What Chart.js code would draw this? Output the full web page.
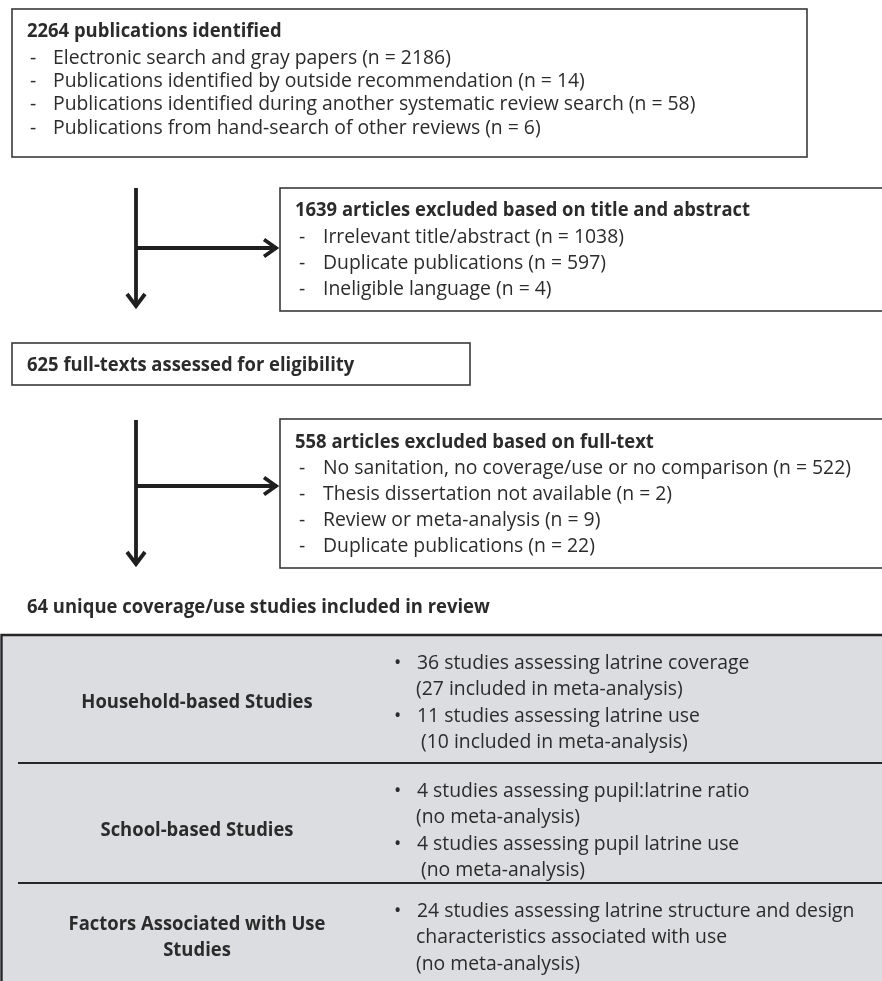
<!DOCTYPE html>
<html lang="en">
<head>
<meta charset="UTF-8">
<meta name="viewport" content="width=device-width, initial-scale=1.0">
<title>Study selection flow</title>
<script src="https://cdn.jsdelivr.net/npm/chart.js"></script>
<style>
  html, body { margin: 0; padding: 0; background: #fff; }
  #flow { display: block; }
</style>
</head>
<body>

<canvas id="flow" width="882" height="981"></canvas>

<script>
// counts
const identifiedTotal = 2264;
const identifiedSources = [
    'Electronic search and gray papers',
    'Publications identified by outside recommendation',
    'Publications identified during another systematic review search',
    'Publications from hand-search of other reviews'
];
const identifiedCounts = [2186, 14, 58, 6];

const screenExcludedTotal = 1639;
const screenReasons = ['Irrelevant title/abstract', 'Duplicate publications', 'Ineligible language'];
const screenCounts = [1038, 597, 4];

const fullTextTotal = 625;

const fullTextExcludedTotal = 558;
const fullTextReasons = [
    'No sanitation, no coverage/use or no comparison',
    'Thesis dissertation not available',
    'Review or meta-analysis',
    'Duplicate publications'
];
const fullTextCounts = [522, 2, 9, 22];

const includedTotal = 64;

const groupNames = [['Household-based Studies'], ['School-based Studies'], ['Factors Associated with Use', 'Studies']];
// each line: [bullet?, text]
const groupLines = [
    [[true, '36 studies assessing latrine coverage'], [false, '(27 included in meta-analysis)'],
     [true, '11 studies assessing latrine use'], [false, ' (10 included in meta-analysis)']],
    [[true, '4 studies assessing pupil:latrine ratio'], [false, '(no meta-analysis)'],
     [true, '4 studies assessing pupil latrine use'], [false, ' (no meta-analysis)']],
    [[true, '24 studies assessing latrine structure and design'], [false, 'characteristics associated with use'],
     [false, '(no meta-analysis)']]
];

// layout in page units (scale 0..882 x 0..981)
const FAMILY = '"Open Sans", "Noto Sans", sans-serif';
const INK = '#2b2b2b';
const boxes = {
    identified: { x: 12, y: 9, w: 795, h: 148, titleX: 27, titleY: 31, dashX: 30, textX: 53, firstY: 58, step: 23.4 },
    screen:     { x: 280, y: 188, w: 620, h: 123, titleX: 295, titleY: 210, dashX: 299, textX: 323, firstY: 237, step: 26.3 },
    fulltext:   { x: 12, y: 343, w: 458, h: 42, titleX: 27, titleY: 365 },
    excluded:   { x: 280, y: 419, w: 620, h: 149, titleX: 295, titleY: 442, dashX: 299, textX: 323, firstY: 468, step: 26.3 }
};
const arrows = [
    { x: 136, y0: 188, y1: 310, branchY: 248, branchX: 280 },
    { x: 136, y0: 420, y1: 568, branchY: 486, branchX: 280 }
];
const table = { top: 635, left: 1.5, sepX: 18, rows: [635, 763, 883, 981], labelX: 197, bulletX: 394, textX: 417, step: 26.5, firstOffset: 28 };

const flowPlugin = {
    id: 'flow',
    afterDraw(chart) {
        const ctx = chart.ctx;
        const sx = chart.scales.x, sy = chart.scales.y;
        const px = v => sx.getPixelForValue(v);
        const py = v => sy.getPixelForValue(v);

        // regular size chosen so a known line runs as wide as in the source;
        // bold uses the same size but is squeezed sideways to its own width
        ctx.font = '100px ' + FAMILY;
        const size = 100 * 643 / ctx.measureText('Publications identified during another systematic review search (n = 58)').width;
        const regFont = size.toFixed(2) + 'px ' + FAMILY;
        const boldFont = 'bold ' + size.toFixed(2) + 'px ' + FAMILY;
        ctx.font = boldFont;
        const kBold = 455 / ctx.measureText('1639 articles excluded based on title and abstract').width;

        ctx.save();
        ctx.textBaseline = 'middle';

        function text(str, x, y, font, align) {
            ctx.save();
            ctx.font = font;
            ctx.fillStyle = INK;
            ctx.textAlign = align || 'left';
            ctx.translate(px(x), py(y));
            if (font === boldFont) ctx.scale(kBold, 1);
            ctx.fillText(str, 0, 0);
            ctx.restore();
        }

        function box(b, title, items) {
            ctx.strokeStyle = '#3a3a3a';
            ctx.lineWidth = 1.6;
            ctx.strokeRect(px(b.x), py(b.y), px(b.x + b.w) - px(b.x), py(b.y + b.h) - py(b.y));
            text(title, b.titleX, b.titleY, boldFont);
            (items || []).forEach((s, i) => {
                const yy = b.firstY + i * b.step;
                text('-', b.dashX, yy, regFont);
                text(s, b.textX, yy, regFont);
            });
        }

        const withN = (labels, counts) => labels.map((l, i) => l + ' (n = ' + counts[i] + ')');

        box(boxes.identified, identifiedTotal + ' publications identified', withN(identifiedSources, identifiedCounts));
        box(boxes.screen, screenExcludedTotal + ' articles excluded based on title and abstract', withN(screenReasons, screenCounts));
        box(boxes.fulltext, fullTextTotal + ' full-texts assessed for eligibility');
        box(boxes.excluded, fullTextExcludedTotal + ' articles excluded based on full-text', withN(fullTextReasons, fullTextCounts));

        // arrows
        ctx.strokeStyle = '#1f1f1f';
        ctx.lineWidth = 3.8;
        ctx.lineJoin = 'miter';
        ctx.lineCap = 'butt';
        arrows.forEach(a => {
            const ax = px(a.x), tipY = py(a.y1), by = py(a.branchY), tipX = px(a.branchX);
            ctx.beginPath();
            ctx.moveTo(ax, py(a.y0));
            ctx.lineTo(ax, tipY - 3);
            ctx.moveTo(ax, by);
            ctx.lineTo(tipX - 3, by);
            ctx.stroke();
            // heads
            ctx.beginPath();
            ctx.moveTo(ax - 9, tipY - 16);
            ctx.lineTo(ax, tipY - 4);
            ctx.lineTo(ax + 9, tipY - 16);
            ctx.moveTo(tipX - 16, by - 8.5);
            ctx.lineTo(tipX - 4, by);
            ctx.lineTo(tipX - 16, by + 8.5);
            ctx.stroke();
        });

        text(includedTotal + ' unique coverage/use studies included in review', 27, 607, boldFont);

        // table
        const r = table.rows;
        ctx.fillStyle = '#dcdde0';
        ctx.fillRect(px(table.left), py(r[0]), px(900) - px(table.left), py(r[3] + 10) - py(r[0]));
        ctx.strokeStyle = '#262626';
        ctx.lineWidth = 2.4;
        ctx.beginPath();
        ctx.moveTo(px(table.left), py(r[3] + 10));
        ctx.lineTo(px(table.left), py(r[0]));
        ctx.lineTo(px(900), py(r[0]));
        ctx.stroke();
        ctx.lineWidth = 2.2;
        [r[1], r[2]].forEach(yy => {
            ctx.beginPath();
            ctx.moveTo(px(table.sepX), py(yy));
            ctx.lineTo(px(900), py(yy));
            ctx.stroke();
        });

        groupNames.forEach((name, gi) => {
            const lines = groupLines[gi];
            const y0 = r[gi];
            const midLines = y0 + table.firstOffset + (lines.length - 1) * table.step / 2;
            name.forEach((n, ni) => {
                const yy = midLines + (ni - (name.length - 1) / 2) * table.step;
                text(n, table.labelX, yy, boldFont, 'center');
            });
            lines.forEach((ln, li) => {
                const yy = y0 + table.firstOffset + li * table.step;
                if (ln[0]) text('\u2022', table.bulletX, yy, regFont);
                text(ln[1], ln[0] ? table.textX : table.textX - 1, yy, regFont);
            });
        });

        ctx.restore();
    }
};

const ctx = document.getElementById('flow').getContext('2d');
const flowChart = new Chart(ctx, {
    type: 'scatter',
    data: { datasets: [] },
    options: {
        responsive: false,
        animation: false,
        layout: { padding: 0 },
        plugins: { legend: { display: false }, tooltip: { enabled: false } },
        scales: {
            x: { type: 'linear', min: 0, max: 882, display: false },
            y: { type: 'linear', min: 0, max: 981, reverse: true, display: false }
        }
    },
    plugins: [flowPlugin]
});
</script>

</body>
</html>
